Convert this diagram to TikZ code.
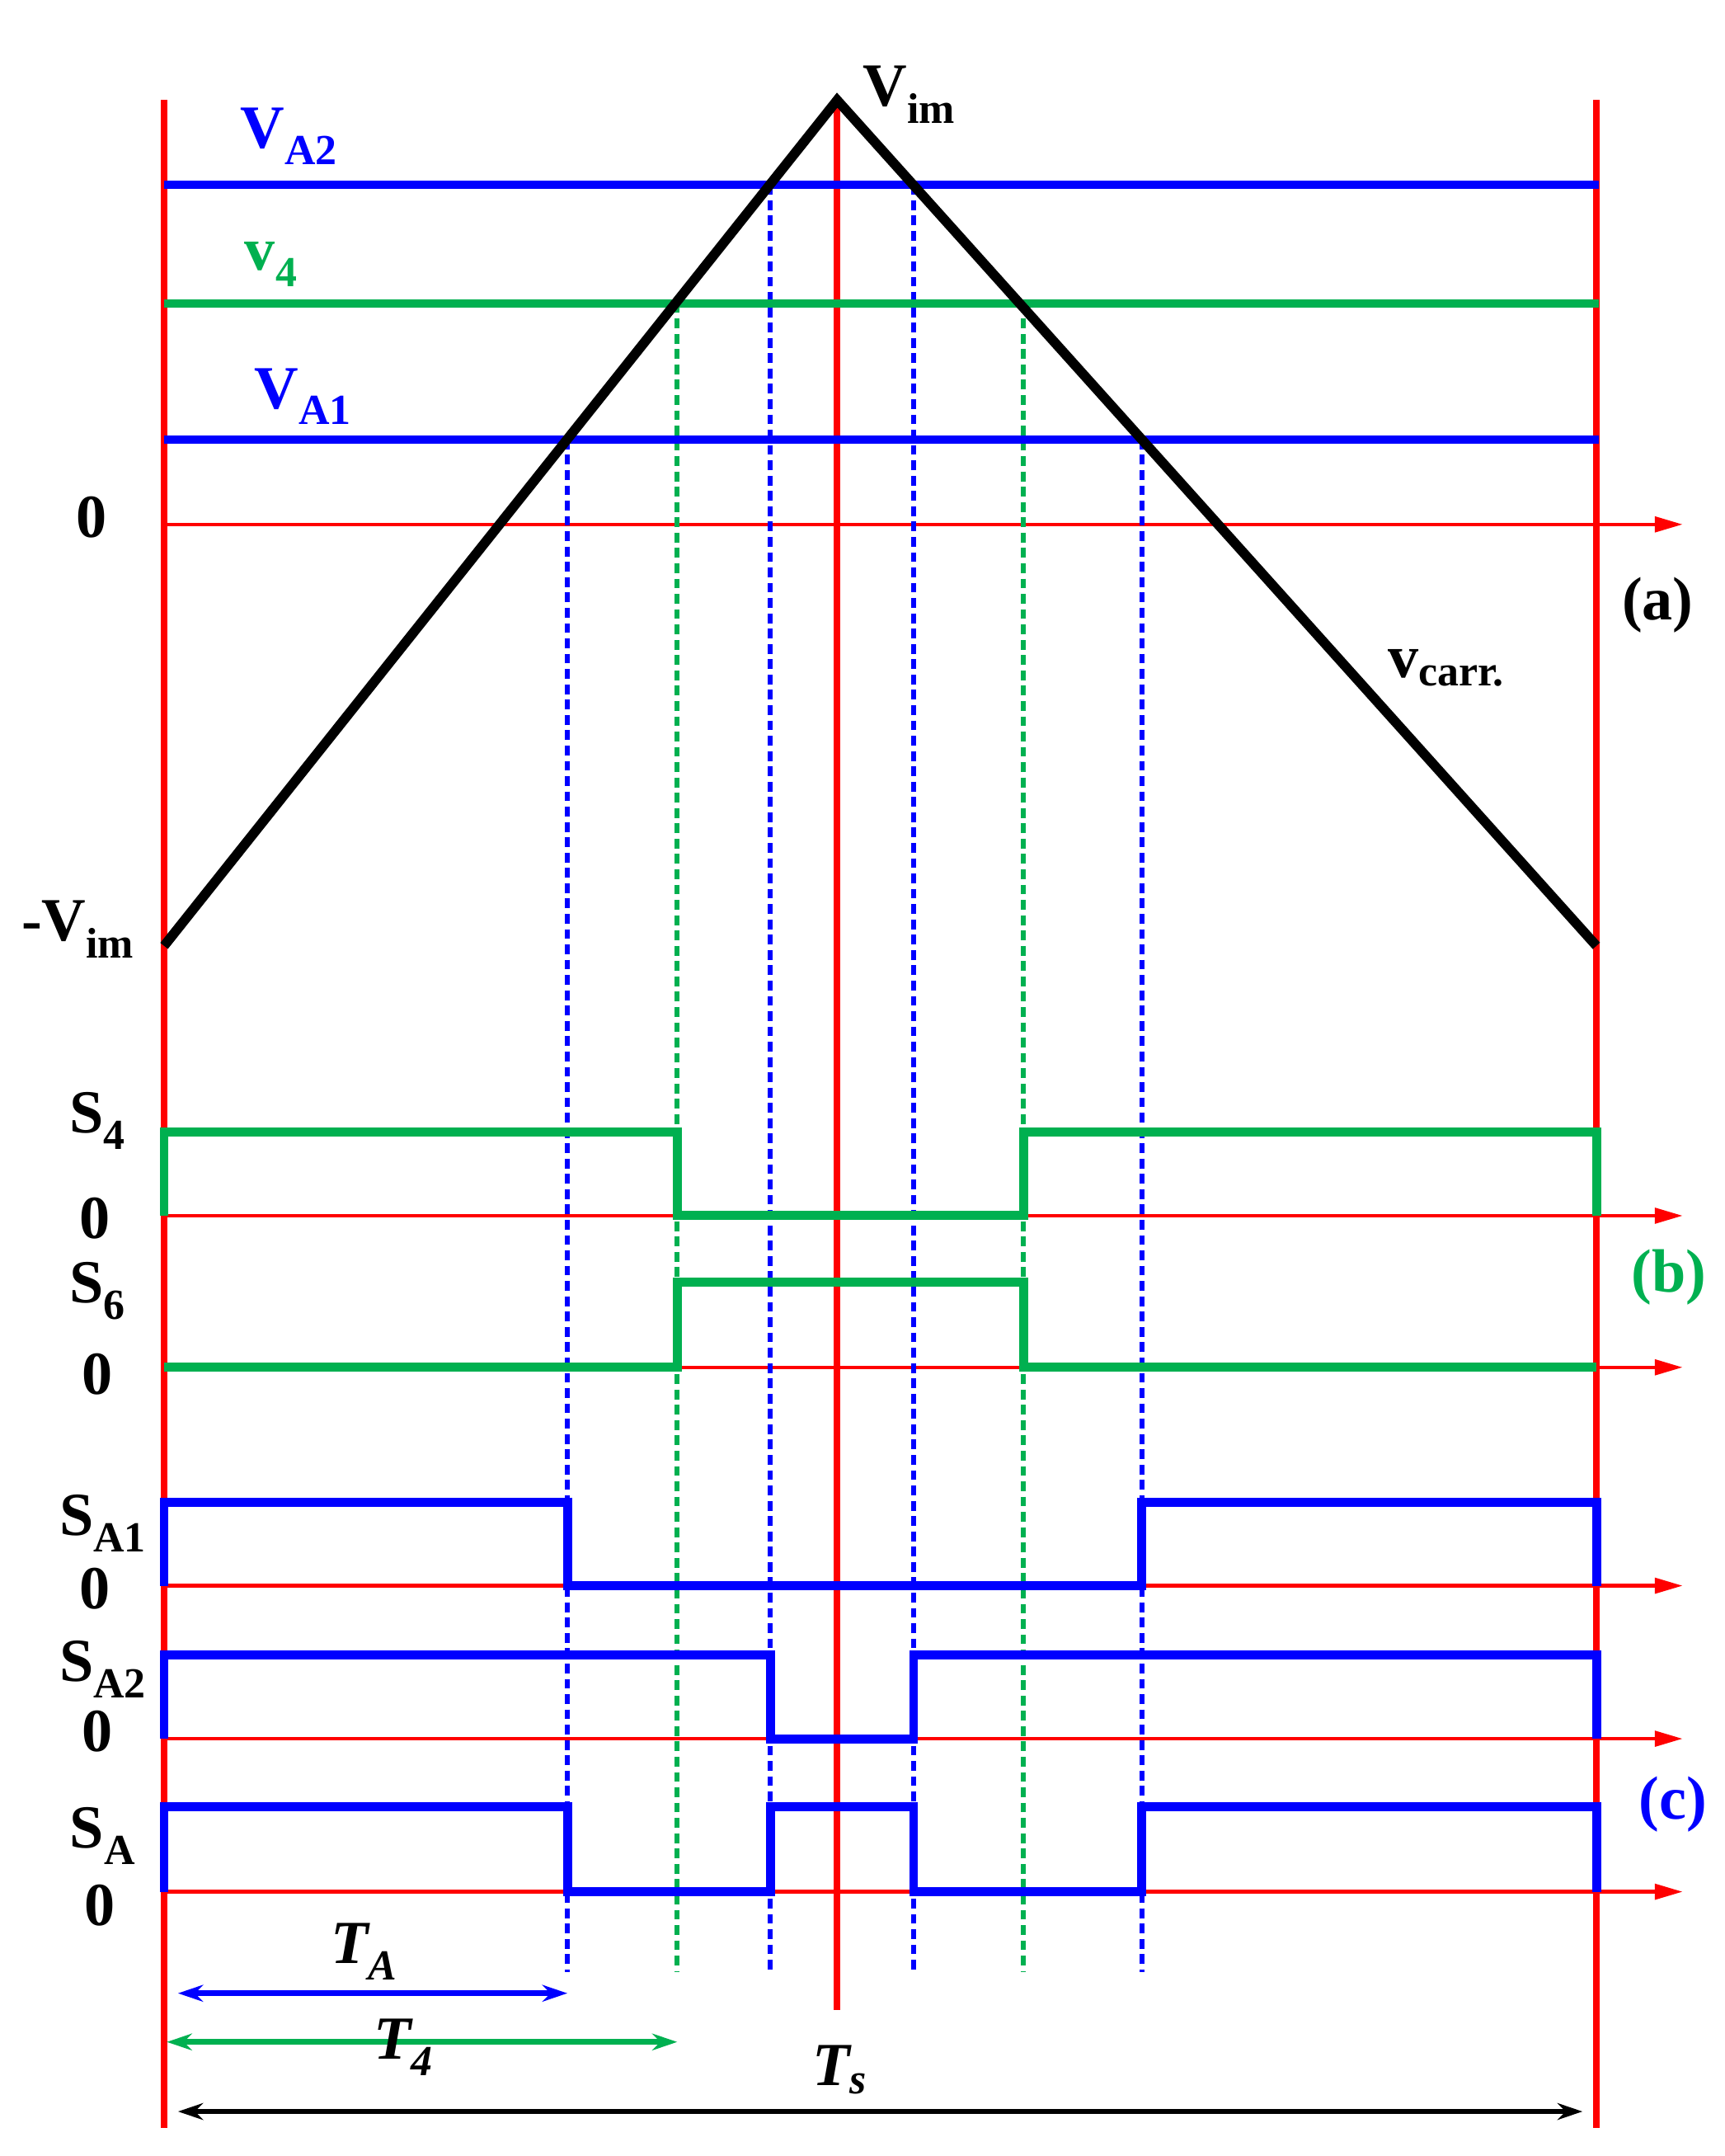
\documentclass[tikz,border=0pt]{standalone}
\usepackage{fontspec}
\setmainfont{Liberation Serif}
\usetikzlibrary{arrows.meta}
\definecolor{gr}{RGB}{0,176,80}
\definecolor{bl}{RGB}{0,0,255}
\definecolor{rd}{RGB}{255,0,0}
\begin{document}
\begin{tikzpicture}[x=1pt,y=-1pt,
 lab/.style={font=\fontsize{44}{44}\selectfont\bfseries,inner sep=0pt},
 axis/.style={rd,line width=2.5pt,-{Triangle[length=20pt,width=11pt]}},
 vline/.style={rd,line width=5pt},
 dotb/.style={bl,line width=3.5pt,dash pattern=on 7pt off 4pt},
 dotg/.style={gr,line width=3.5pt,dash pattern=on 7pt off 4pt},
 pul/.style={line width=6.5pt,line join=miter},
 dim/.style={line width=4pt,{Stealth[length=18pt,width=12pt]}-{Stealth[length=18pt,width=12pt]}}]
\useasboundingbox (0,0) rectangle (1240,1550);
% axes
\draw[axis] (118,377) -- (1210,377);
\draw[axis] (118,874) -- (1210,874);
\draw[axis] (118,983) -- (1210,983);
\draw[axis] (118,1140) -- (1210,1140);
\draw[axis] (118,1250) -- (1210,1250);
\draw[axis] (118,1360) -- (1210,1360);
% dotted
\draw[dotb] (408,316) -- (408,1418);
\draw[dotb] (554,133) -- (554,1418);
\draw[dotb] (657,133) -- (657,1418);
\draw[dotb] (821,316) -- (821,1418);
\draw[dotg] (487,218) -- (487,1418);
\draw[dotg] (736,218) -- (736,1418);
% vertical red
\draw[vline] (118,72) -- (118,1530);
\draw[vline] (1148,72) -- (1148,1530);
\draw[vline] (602,72) -- (602,1445);
% levels
\draw[bl,line width=6pt] (118,133) -- (1150,133);
\draw[gr,line width=6pt] (118,218) -- (1150,218);
\draw[bl,line width=6pt] (118,316) -- (1150,316);
% carrier
\draw[line width=7pt,line join=miter] (118,680) -- (602,72) -- (1148,680);
% pulses
\draw[pul,gr] (118,874) -- (118,814) -- (487,814) -- (487,874) -- (736,874) -- (736,814) -- (1148,814) -- (1148,874);
\draw[pul,gr] (118,983) -- (487,983) -- (487,922) -- (736,922) -- (736,983) -- (1148,983);
\draw[pul,bl] (118,1140) -- (118,1080) -- (408,1080) -- (408,1140) -- (821,1140) -- (821,1080) -- (1148,1080) -- (1148,1140);
\draw[pul,bl] (118,1250) -- (118,1190) -- (554,1190) -- (554,1250) -- (657,1250) -- (657,1190) -- (1148,1190) -- (1148,1250);
\draw[pul,bl] (118,1360) -- (118,1299) -- (408,1299) -- (408,1360) -- (554,1360) -- (554,1299) -- (657,1299) -- (657,1360) -- (821,1360) -- (821,1299) -- (1148,1299) -- (1148,1360);
% dims
\draw[dim,bl] (128,1433) -- (408,1433);
\draw[dim,gr] (120,1468) -- (487,1468);
\draw[dim] (128,1518) -- (1138,1518);
% labels
\node[lab,bl] (la2) at (208,98) {V\textsubscript{A2}};
\node[lab,gr] (l4) at (195,190) {v\textsubscript{4}};
\node[lab,bl] (la1) at (218,285) {V\textsubscript{A1}};
\node[lab] (z0) at (66,372) {0};
\node[lab] (vim) at (654,68) {V\textsubscript{im}};
\node[lab] (mvim) at (56,668) {-V\textsubscript{im}};
\node[lab] (la) at (1192,435) {(a)};
\node[lab] (vc) at (1040,480) {v\textsubscript{carr.}};
\node[lab] (ls4) at (70,806) {S\textsubscript{4}};
\node[lab] (z1) at (68,876) {0};
\node[lab] (ls6) at (70,928) {S\textsubscript{6}};
\node[lab] (z2) at (70,988) {0};
\node[lab,gr] (lb) at (1200,918) {(b)};
\node[lab] (lsa1) at (74,1095) {S\textsubscript{A1}};
\node[lab] (z3) at (68,1142) {0};
\node[lab] (lsa2) at (74,1200) {S\textsubscript{A2}};
\node[lab] (z4) at (70,1245) {0};
\node[lab,bl] (lc) at (1203,1297) {(c)};
\node[lab] (lsa) at (74,1320) {S\textsubscript{A}};
\node[lab] (z5) at (72,1370) {0};
\node[lab] (lta) at (262,1403) {\textit{T\textsubscript{A}}};
\node[lab] (lt4) at (290,1472) {\textit{T\textsubscript{4}}};
\node[lab] (lts) at (604,1488) {\textit{T\textsubscript{s}}};
\end{tikzpicture}
\end{document}
